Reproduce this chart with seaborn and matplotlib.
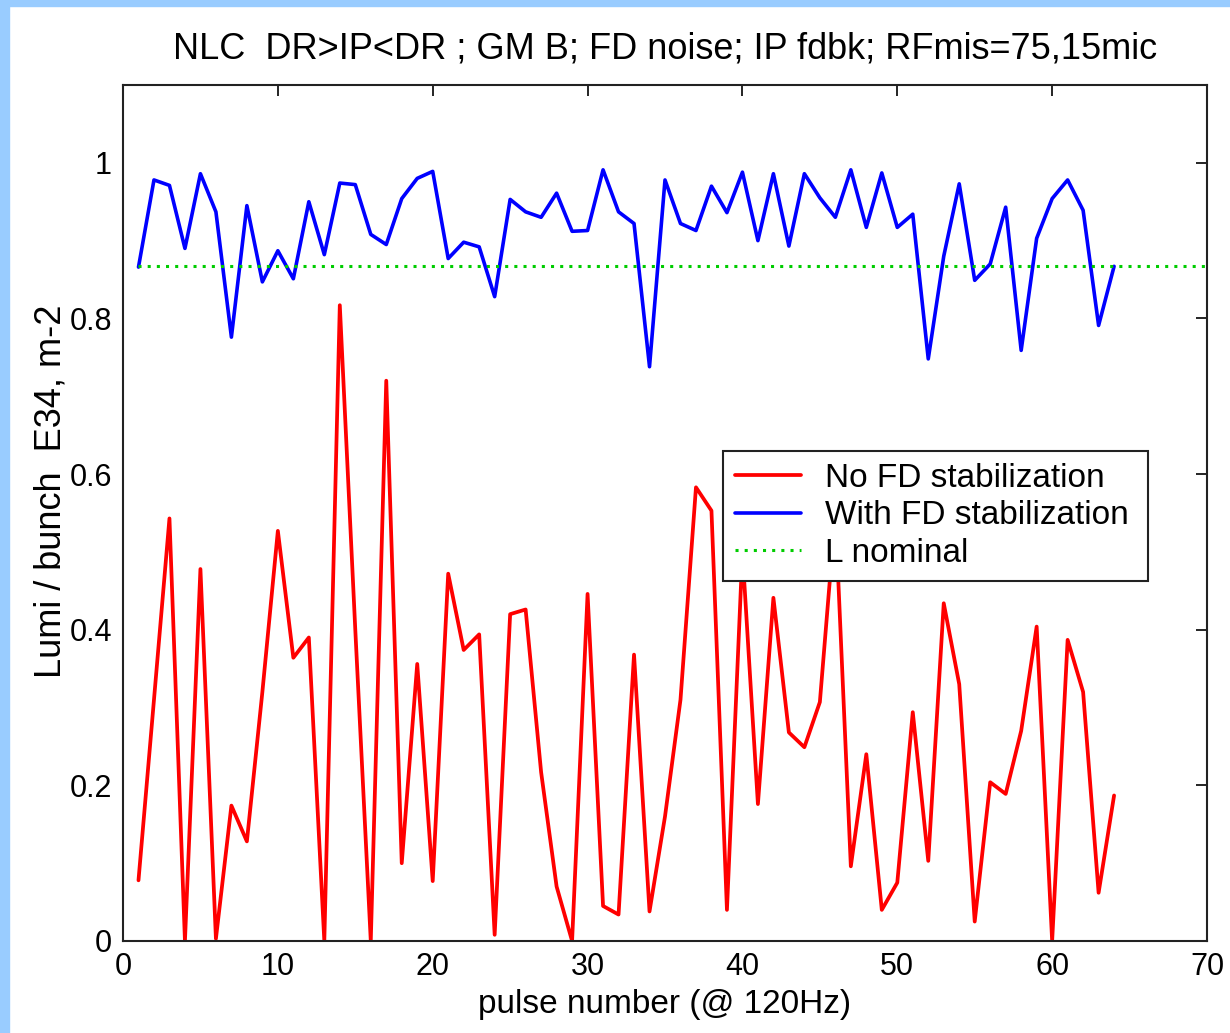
import numpy as np
import pandas as pd
import matplotlib
matplotlib.use("Agg")
import matplotlib.pyplot as plt
import seaborn as sns
from matplotlib.patches import Rectangle

pulses = list(range(1, 65))
no_fd = [0.078, 0.31, 0.543, 0.0, 0.478, 0.003, 0.174, 0.128, 0.32, 0.527,
         0.364, 0.39, 0.0, 0.817, 0.40, 0.0, 0.72, 0.10, 0.356, 0.077,
         0.472, 0.374, 0.394, 0.008, 0.42, 0.426, 0.217, 0.07, 0.0, 0.446,
         0.045, 0.034, 0.368, 0.038, 0.16, 0.31, 0.583, 0.553, 0.04, 0.50,
         0.176, 0.441, 0.268, 0.249, 0.307, 0.55, 0.096, 0.24, 0.04, 0.075,
         0.294, 0.103, 0.434, 0.33, 0.025, 0.204, 0.189, 0.27, 0.404, 0.0,
         0.387, 0.32, 0.062, 0.187]
with_fd = [0.866, 0.978, 0.971, 0.89, 0.986, 0.937, 0.776, 0.945, 0.847, 0.887,
           0.851, 0.95, 0.882, 0.974, 0.972, 0.908, 0.895, 0.954, 0.98, 0.989,
           0.877, 0.898, 0.892, 0.828, 0.953, 0.937, 0.93, 0.961, 0.912, 0.913,
           0.991, 0.937, 0.922, 0.738, 0.978, 0.922, 0.913, 0.97, 0.936, 0.988,
           0.9, 0.986, 0.893, 0.986, 0.955, 0.93, 0.991, 0.917, 0.987, 0.917,
           0.934, 0.748, 0.88, 0.973, 0.849, 0.87, 0.943, 0.759, 0.903, 0.954,
           0.978, 0.939, 0.791, 0.867]
nominal_x = [1, 70]
nominal_y = [0.868, 0.868]

series_names = ["No FD stabilization", "With FD stabilization", "L nominal"]
title = "NLC  DR>IP<DR ; GM B; FD noise; IP fdbk; RFmis=75,15mic"
xlabel = "pulse number (@ 120Hz)"
ylabel = "Lumi / bunch  E34, m-2"
xticks = [0, 10, 20, 30, 40, 50, 60, 70]
yticks = [0, 0.2, 0.4, 0.6, 0.8, 1.0]
yticklabels = ["0", "0.2", "0.4", "0.6", "0.8", "1"]

sns.set_style("white")
plt.rcParams["font.family"] = ["Liberation Sans", "DejaVu Sans"]
plt.rcParams["text.color"] = "black"
plt.rcParams["axes.labelcolor"] = "black"
plt.rcParams["xtick.color"] = "black"
plt.rcParams["ytick.color"] = "black"

fig = plt.figure(figsize=(12.3, 10.33), dpi=100)
fig.patch.set_facecolor("white")
# light blue border strips (top and left)
fig.add_artist(Rectangle((0, 1 - 6 / 1033), 1, 6 / 1033, transform=fig.transFigure,
                         color="#99ccff", zorder=0))
fig.add_artist(Rectangle((0, 0), 9 / 1230, 1, transform=fig.transFigure,
                         color="#99ccff", zorder=0))

ax = fig.add_axes([123 / 1230, 1 - 941 / 1033, (1207 - 123) / 1230, (941 - 85) / 1033])

df_red = pd.DataFrame({"pulse": pulses, "lumi": no_fd})
df_blue = pd.DataFrame({"pulse": pulses, "lumi": with_fd})
df_nom = pd.DataFrame({"pulse": nominal_x, "lumi": nominal_y})

sns.lineplot(data=df_red, x="pulse", y="lumi", ax=ax, color="#ff0000", lw=2.7,
             label=series_names[0])
sns.lineplot(data=df_blue, x="pulse", y="lumi", ax=ax, color="#0000ff", lw=2.6,
             label=series_names[1])
sns.lineplot(data=df_nom, x="pulse", y="lumi", ax=ax, color="#00cc00", lw=2.2,
             linestyle=(0, (1, 2.0)), label=series_names[2])

ax.set_xlim(0, 70)
ax.set_ylim(0, 1.1)
ax.set_xticks(xticks)
ax.set_xticklabels([str(t) for t in xticks])
ax.set_yticks(yticks)
ax.set_yticklabels(yticklabels)
ax.tick_params(direction="in", length=8, width=1.2, labelsize=22, colors="black",
               top=True, right=True, pad=8)
for s in ax.spines.values():
    s.set_visible(True)
    s.set_color("#222222")
    s.set_linewidth(1.5)

ax.set_xlabel(xlabel, fontsize=24, labelpad=5)
ax.set_ylabel(ylabel, fontsize=26)
ax.yaxis.set_label_coords(-0.050, (941 - 491) / 856)
ax.set_title(title, fontsize=26, pad=19, color="black")

leg = ax.legend(loc="upper left",
                bbox_to_anchor=((723 - 123) / 1084, (941 - 575) / 856,
                                (1148 - 723) / 1084, (575 - 451) / 856),
                mode="expand", fontsize=24,
                frameon=True, fancybox=False, framealpha=1, edgecolor="#222222",
                handlelength=2.0, handletextpad=0.7, borderpad=0.35, labelspacing=0.2,
                borderaxespad=0)
leg.get_frame().set_linewidth(1.5)

fig.savefig("out.png", dpi=100, facecolor=fig.get_facecolor())
